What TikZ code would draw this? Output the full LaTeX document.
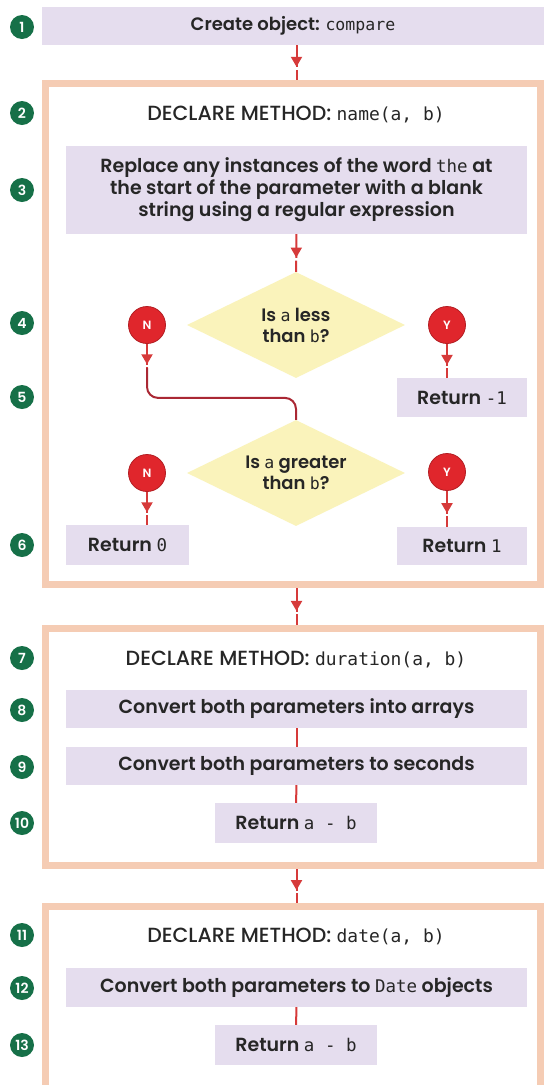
\documentclass[tikz,border=0pt]{standalone}
\usepackage{fontspec}
\setmainfont{Poppins}[BoldFont={Poppins SemiBold}]
\newfontfamily\headfont{Poppins Medium}
\setmonofont{DejaVu Sans Mono}[Scale=0.92]
\usetikzlibrary{arrows.meta,shapes.geometric,decorations.markings}
\definecolor{boxlilac}{RGB}{229,221,238}
\definecolor{frameorange}{RGB}{245,204,180}
\definecolor{choiceyellow}{RGB}{250,243,187}
\definecolor{choicered}{RGB}{224,38,44}
\definecolor{linkred}{RGB}{214,58,58}
\definecolor{linkdark}{RGB}{170,40,52}
\definecolor{stepgreen}{RGB}{22,112,72}
\definecolor{inkgray}{RGB}{38,38,38}
\newcommand\codetxt[1]{{\mdseries\ttfamily #1}}
\newcommand\headcode[1]{{\fontsize{19.5}{22}\selectfont\ttfamily #1}}

\begin{document}
\begin{tikzpicture}[
  x=1pt,y=-1pt,
  box/.style={fill=boxlilac,inner sep=2pt,align=center,text=inkgray,
    font=\fontsize{19}{22}\selectfont\bfseries},
  wide/.style={box,minimum width=461pt,minimum height=38pt},
  ret/.style={box,minimum width=162pt,minimum height=40pt},
  methodframe/.style={draw=frameorange,line width=7pt,minimum width=495pt},
  heading/.style={text=inkgray,font=\fontsize{20.5}{24}\headfont},
  choice/.style={diamond,aspect=2,fill=choiceyellow,minimum width=218pt,
    minimum height=106pt,inner sep=0pt,align=center,text=inkgray,
    font=\fontsize{18}{21}\selectfont\bfseries},
  answer/.style={circle,fill=choicered,draw=choicered!80!black,line width=0.8pt,
    minimum size=37pt,inner sep=0pt,text=white,font=\fontsize{12}{12}\selectfont\bfseries},
  num/.style={circle,fill=stepgreen,minimum size=24pt,inner sep=0pt,text=white,
    font=\fontsize{14}{14}\selectfont\bfseries},
  link/.style={draw=linkred,line width=2pt},
  flow/.style={link,postaction={decorate},decoration={markings,
    mark=at position #1 with {\arrow{Triangle[length=10pt,width=11pt]}
      \fill[white] (0.6pt,-2pt) rectangle (3pt,2pt);}}},
  flow/.default=0.62
]
  \fill[white] (0,0) rectangle (544,1085);
  \useasboundingbox (0,0) rectangle (544,1085);

  % step numbers
  \foreach \n/\y in {1/27,2/113,3/190,4/323,5/397,6/545,7/658,8/710,9/767,
                     10/823,11/935,12/988,13/1045}
    \node[num] (num\n) at (22,\y) {\n};

  \node[box,minimum width=502pt,minimum height=38pt,font=\fontsize{18}{21}\selectfont\bfseries]
    (create) at (293,26) {Create object: \codetxt{compare}};

  % method name(a, b)
  \node[methodframe,minimum height=501pt] (namemethod) at (293,334) {};
  \node[heading] (namehead) at (296,115) {DECLARE METHOD: \headcode{name(a, b)}};
  \node[wide,minimum height=88pt] (replace) at (296.5,190)
    {Replace any instances of the word \codetxt{the} at\\
     the start of the parameter with a blank\\
     string using a regular expression};
  \node[choice] (lessq) at (296,325) {Is \codetxt{a} less\\than \codetxt{b}?};
  \node[answer] (nolt) at (147,325) {N};
  \node[answer] (yeslt) at (447,325) {Y};
  \node[ret,minimum width=130pt,minimum height=39pt] (retminus) at (462,397.5)
    {Return \codetxt{-1}};
  \node[choice] (moreq) at (296,473) {Is \codetxt{a} greater\\than \codetxt{b}?};
  \node[answer] (nogt) at (147,473) {N};
  \node[answer] (yesgt) at (447,472) {Y};
  \node[ret,minimum width=123pt] (retzero) at (127.5,545) {Return \codetxt{0}};
  \node[ret,minimum width=130pt,minimum height=38pt] (retone) at (462,546)
    {Return \codetxt{1}};

  % method duration(a, b)
  \node[methodframe,minimum height=237pt] (durmethod) at (293,747) {};
  \node[heading] (durhead) at (296,660) {DECLARE METHOD: \headcode{duration(a, b)}};
  \node[wide] (toarrays) at (296.5,709) {Convert both parameters into arrays};
  \node[wide] (toseconds) at (296.5,766) {Convert both parameters to seconds};
  \node[ret] (retdiff) at (296,823) {Return \codetxt{a - b}};

  % method date(a, b)
  \node[methodframe,minimum height=182pt] (datemethod) at (293,997.5) {};
  \node[heading] (datehead) at (296,937) {DECLARE METHOD: \headcode{date(a, b)}};
  \node[wide,minimum height=39pt] (todates) at (296.5,987.5)
    {Convert both parameters to \codetxt{Date} objects};
  \node[ret] (retdate) at (296,1045) {Return \codetxt{a - b}};

  \draw[flow] (create.south -| replace.south) -- (namemethod.north -| replace.south);
  \draw[flow] (replace) -- (lessq);
  \coordinate (nobend) at ([yshift=-24pt]nolt.south);
  \draw[link,draw=linkdark,rounded corners=11pt]
    (nobend) -- ++(0,30) -| (moreq.north);
  \draw[flow=0.85] (nolt.south) -- (nobend);
  \draw[flow] (yeslt.south) -- (yeslt.south |- retminus.north);
  \draw[flow] (nogt.south) -- (nogt.south |- retzero.north);
  \draw[flow] (yesgt.south) -- (yesgt.south |- retone.north);
  \draw[flow] (namemethod.south -| toarrays.south) -- (durmethod.north -| toarrays.south);
  \draw[link] (toarrays) -- (toseconds);
  \draw[link] (toseconds) -- (retdiff);
  \draw[flow] (durmethod.south -| todates.south) -- (datemethod.north -| todates.south);
  \draw[link] (todates) -- (retdate);
\end{tikzpicture}
\end{document}
